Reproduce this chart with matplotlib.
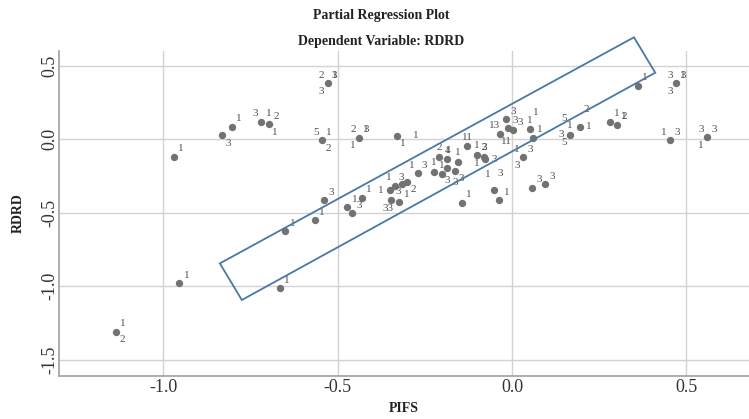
import matplotlib
matplotlib.use("Agg")
import matplotlib.pyplot as plt
from matplotlib.patches import Polygon

# ---- data -------------------------------------------------------------
pifs = [-0.969, -0.832, -0.803, -0.719, -0.697, -0.529, -0.545, -0.439, -0.331,
        -0.538, -0.566, -0.650, -0.954, -1.136, -0.666, -0.472, -0.459, -0.431,
        -0.350, -0.337, -0.316, -0.300, -0.346, -0.323, -0.271, -0.223, -0.200,
        -0.208, -0.185, -0.185, -0.164, -0.156, -0.128, -0.101, -0.079, -0.076,
        -0.143, -0.051, -0.036, -0.017, -0.034, -0.012, 0.004, 0.052, 0.059,
        0.031, 0.058, 0.096, 0.166, 0.195, 0.281, 0.302, 0.362, 0.470, 0.453,
        0.560]
rdrd = [-0.120, 0.029, 0.086, 0.121, 0.104, 0.381, -0.005, 0.011, 0.024,
        -0.414, -0.549, -0.626, -0.978, -1.309, -1.012, -0.463, -0.503, -0.397,
        -0.348, -0.316, -0.304, -0.290, -0.410, -0.427, -0.231, -0.220, -0.238,
        -0.118, -0.136, -0.197, -0.214, -0.152, -0.048, -0.105, -0.118, -0.137,
        -0.431, -0.345, -0.416, 0.137, 0.038, 0.075, 0.063, 0.067, 0.012,
        -0.122, -0.331, -0.307, 0.031, 0.086, 0.120, 0.099, 0.363, 0.381, -0.005,
        0.014]

# case labels: (point index, text, placement)
case_labels = [
    (0, "1", "ur"), (1, "3", "lr"), (2, "1", "ur"),
    (3, "3", "ul"), (3, "1", "ur"), (4, "2", "ur"), (4, "1", "lr"),
    (5, "2", "ul"), (5, "1", "ur"), (5, "3", "ur"), (5, "3", "ll"),
    (6, "5", "ul"), (6, "1", "ur"), (6, "2", "lr"),
    (7, "2", "ul"), (7, "3", "ur"), (7, "1", "ur"), (7, "1", "ll"),
    (8, "1", "lr"), (8, "1", "rr"),
    (9, "3", "ur"), (10, "1", "ur"), (11, "1", "ur"), (12, "1", "ur"),
    (13, "1", "ur"), (13, "2", "lr"), (14, "1", "ur"),
    (15, "1", "ur"), (16, "3", "ur"), (17, "1", "ur"),
    (18, "1", "l"), (19, "3", "ur"), (19, "1", "ul"),
    (21, "2", "lr"), (22, "33", "dl"), (22, "3", "ur"), (23, "1", "ur"),
    (24, "1", "ul"), (24, "3", "ur"), (25, "1", "u"), (26, "1", "u"),
    (27, "2", "u"), (28, "1", "u"), (28, "4", "u"),
    (29, "3", "dd"), (30, "3", "dd"), (30, "3", "lr"), (31, "1", "u"),
    (32, "11", "u"), (33, "1", "u"), (33, "1", "d"),
    (34, "2", "u"), (34, "3", "u"), (35, "3", "r"),
    (36, "1", "ur"), (37, "1", "uul"), (37, "3", "uur"), (38, "1", "ur"),
    (39, "3", "ur"), (40, "13", "ul"), (40, "11", "lr"), (41, "3", "ur"),
    (42, "3", "ur"), (43, "1", "u"), (43, "1", "uur"), (44, "1", "ur"),
    (45, "1", "ul"), (45, "3", "ur"), (45, "3", "ll"),
    (46, "3", "ur"), (47, "3", "ur"),
    (48, "5", "uul"), (48, "3", "l"), (48, "1", "u"), (48, "5", "ll"),
    (49, "1", "r"), (49, "2", "uur"), (50, "1", "ur"),
    (51, "1", "ur"), (51, "2", "ur"), (52, "1", "ur"),
    (53, "3", "ul"), (53, "3", "ur"), (53, "1", "ur"), (53, "3", "ll"),
    (54, "1", "ul"), (54, "3", "ur"),
    (55, "3", "ul"), (55, "3", "ur"), (55, "1", "ll"),
]

# highlighted band (rotated rectangle corners)
band_x = [-0.838, 0.350, 0.411, -0.775]
band_y = [-0.844, 0.694, 0.453, -1.093]

x_ticks = [-1.0, -0.5, 0.0, 0.5]
y_ticks = [0.5, 0.0, -0.5, -1.0, -1.5]

# ---- styling ------------------------------------------------------------
SERIF = ["Liberation Serif", "DejaVu Serif"]
OFFSETS = {  # pixel offsets (dx, dy with y pointing down)
    "ur": (7, -8), "ul": (-6, -8), "lr": (6, 8), "ll": (-6, 8),
    "u": (0, -9), "d": (0, 9), "r": (9, 0), "l": (-9, 0), "rr": (19, 0),
    "uur": (6, -17), "uul": (-6, -16), "dd": (0, 12), "dl": (-3, 9),
}

fig = plt.figure(figsize=(7.49, 4.19), dpi=100)
ax = fig.add_axes([59 / 749, 43.3 / 419, 690 / 749, 324.7 / 419])

ax.set_xlim(-1.2995, 0.680)
ax.set_ylim(-1.608, 0.6007)

ax.set_xticks(x_ticks)
ax.set_yticks(y_ticks)
ax.set_xticklabels([f"{v:.1f}" for v in x_ticks], family=SERIF, fontsize=13, color="#333333")
ax.set_yticklabels([f"{v:.1f}" for v in y_ticks], family=SERIF, fontsize=13, color="#333333",
                   rotation=90, va="center")
ax.tick_params(axis="x", length=0, pad=2.5)
ax.tick_params(axis="y", length=0, pad=0.5)

ax.grid(True, color="#d2d2d2", linewidth=1.0)
ax.set_axisbelow(True)
for side in ("top", "right"):
    ax.spines[side].set_visible(False)
for side in ("left", "bottom"):
    ax.spines[side].set_color("#a0a0a0")
    ax.spines[side].set_linewidth(1.2)

ax.scatter(pifs, rdrd, s=28, color="#727272", zorder=3, linewidths=0)

for idx, txt, where in case_labels:
    dx, dy = OFFSETS[where]
    ax.annotate(txt, (pifs[idx], rdrd[idx]), xytext=(dx, -dy), textcoords="offset pixels",
                ha="center", va="center", family=SERIF, fontsize=8, color="#505050", zorder=4)

band = Polygon(list(zip(band_x, band_y)), closed=True, fill=False,
               edgecolor="#4a78a6", linewidth=1.3, clip_on=False, zorder=5)
ax.add_patch(band)

ax.set_xlabel("PIFS", family=SERIF, fontsize=10, fontweight="bold", color="#222222", labelpad=4)
ax.set_ylabel("RDRD", family=SERIF, fontsize=10, fontweight="bold", color="#222222", labelpad=12)

fig.text(381 / 749, 1 - 15 / 419, "Partial Regression Plot", family=SERIF, fontsize=10,
         fontweight="bold", ha="center", va="center", color="#222222")
fig.text(381 / 749, 1 - 41 / 419, "Dependent Variable: RDRD", family=SERIF, fontsize=10,
         fontweight="bold", ha="center", va="center", color="#222222")

fig.savefig("out.png", dpi=100)
